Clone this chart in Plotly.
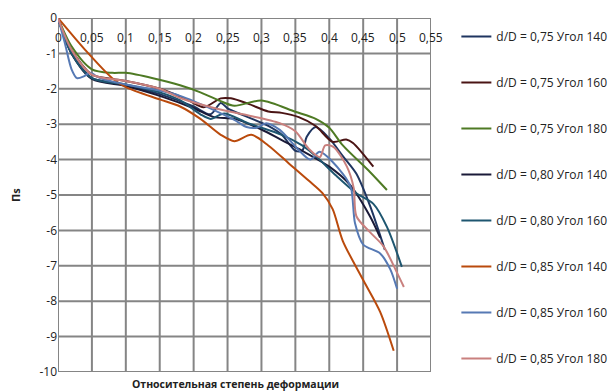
import plotly.graph_objects as go

# Relative deformation (x) and Пs values for each d/D / angle combination
x_075_140 = [0, 0.02, 0.05, 0.08, 0.1, 0.15, 0.2, 0.225, 0.24, 0.25, 0.28, 0.31, 0.33, 0.35, 0.36, 0.367, 0.38, 0.4, 0.42, 0.44, 0.46, 0.482]
y_075_140 = [0, -1.0, -1.7, -1.82, -1.9, -2.15, -2.5, -2.72, -2.4, -2.55, -2.8, -3.05, -3.3, -3.75, -3.75, -3.35, -3.08, -3.4, -3.9, -4.4, -5.3, -6.55]

x_075_160 = [0, 0.02, 0.05, 0.08, 0.1, 0.15, 0.19, 0.215, 0.24, 0.255, 0.28, 0.31, 0.33, 0.355, 0.38, 0.405, 0.425, 0.435, 0.465]
y_075_160 = [0, -0.9, -1.6, -1.72, -1.78, -2.0, -2.3, -2.52, -2.27, -2.27, -2.42, -2.64, -2.68, -2.8, -3.05, -3.5, -3.43, -3.53, -4.2]

x_075_180 = [0, 0.02, 0.05, 0.08, 0.1, 0.14, 0.18, 0.21, 0.24, 0.26, 0.3, 0.35, 0.38, 0.4, 0.42, 0.46, 0.485]
y_075_180 = [0, -0.8, -1.45, -1.55, -1.55, -1.7, -1.9, -2.1, -2.35, -2.48, -2.33, -2.65, -2.85, -3.1, -3.6, -4.35, -4.86]

x_080_140 = [0, 0.02, 0.05, 0.1, 0.15, 0.2, 0.23, 0.26, 0.3, 0.33, 0.36, 0.4, 0.43, 0.46, 0.475]
y_080_140 = [0, -1.0, -1.72, -1.92, -2.2, -2.55, -2.8, -2.85, -3.15, -3.45, -3.75, -4.2, -4.7, -5.6, -6.2]

x_080_160 = [0, 0.02, 0.05, 0.1, 0.15, 0.18, 0.21, 0.225, 0.245, 0.28, 0.33, 0.36, 0.38, 0.41, 0.44, 0.465, 0.485, 0.507]
y_080_160 = [0, -1.0, -1.7, -1.88, -2.1, -2.32, -2.72, -2.85, -2.7, -2.97, -3.3, -3.6, -3.9, -4.45, -4.95, -5.25, -5.9, -7.03]

x_085_140 = [0, 0.04, 0.08, 0.1, 0.15, 0.18, 0.21, 0.24, 0.26, 0.285, 0.31, 0.34, 0.37, 0.39, 0.405, 0.42, 0.45, 0.475, 0.495]
y_085_140 = [0, -0.9, -1.7, -1.95, -2.3, -2.5, -2.85, -3.3, -3.48, -3.3, -3.6, -4.1, -4.6, -4.95, -5.4, -6.3, -7.4, -8.3, -9.4]

x_085_160 = [0, 0.01, 0.02, 0.028, 0.038, 0.047, 0.062, 0.1, 0.15, 0.18, 0.23, 0.26, 0.278, 0.293, 0.307, 0.327, 0.352, 0.372, 0.386, 0.42, 0.432, 0.438, 0.45, 0.475, 0.49, 0.5]
y_085_160 = [0, -0.7, -1.45, -1.7, -1.65, -1.55, -1.7, -1.88, -2.05, -2.2, -2.6, -2.88, -3.08, -3.1, -2.97, -3.16, -3.67, -4.0, -3.78, -4.4, -4.8, -5.8, -6.4, -6.65, -7.1, -7.65]

x_085_180 = [0, 0.02, 0.05, 0.1, 0.15, 0.18, 0.23, 0.278, 0.327, 0.35, 0.37, 0.386, 0.394, 0.406, 0.426, 0.436, 0.44, 0.46, 0.48, 0.5, 0.51]
y_085_180 = [0, -0.9, -1.6, -1.78, -2.0, -2.26, -2.54, -2.74, -2.97, -3.2, -3.7, -3.93, -3.6, -3.64, -4.2, -4.8, -5.6, -6.05, -6.45, -7.2, -7.6]

series_names = [
    "d/D = 0,75 Угол 140", "d/D = 0,75 Угол 160", "d/D = 0,75 Угол 180",
    "d/D = 0,80 Угол 140", "d/D = 0,80 Угол 160", "d/D = 0,85 Угол 140",
    "d/D = 0,85 Угол 160", "d/D = 0,85 Угол 180",
]
series_x = [x_075_140, x_075_160, x_075_180, x_080_140, x_080_160, x_085_140, x_085_160, x_085_180]
series_y = [y_075_140, y_075_160, y_075_180, y_080_140, y_080_160, y_085_140, y_085_160, y_085_180]
colors = ["#1F3560", "#4A1414", "#4E7A24", "#1A1A38", "#1E5670", "#BA4A0C", "#5679B4", "#C9807E"]

x_ticks = [0, 0.05, 0.1, 0.15, 0.2, 0.25, 0.3, 0.35, 0.4, 0.45, 0.5, 0.55]
x_tick_text = ["0", "0,05", "0,1", "0,15", "0,2", "0,25", "0,3", "0,35", "0,4", "0,45", "0,5", "0,55"]
y_ticks = [0, -1, -2, -3, -4, -5, -6, -7, -8, -9, -10]
y_tick_text = ["0", "-1", "-2", "-3", "-4", "-5", "-6", "-7", "-8", "-9", "-10"]

FONT = "Open Sans"
TEXT = "#222222"
GRID = "#858585"

fig = go.Figure()

# horizontal gridlines as one line trace broken by gaps, drawn first so the curves sit on top
grid_x, grid_y = [], []
for v in y_ticks:
    grid_x += [x_ticks[0], x_ticks[-1], None]
    grid_y += [v, v, None]
fig.add_trace(go.Scatter(
    x=grid_x, y=grid_y, mode="lines", showlegend=False, hoverinfo="skip",
    line=dict(color=GRID, width=2), connectgaps=False,
))

for i, (name, xs, ys, c) in enumerate(zip(series_names, series_x, series_y, colors)):
    fig.add_trace(go.Scatter(
        x=xs, y=ys, name=name, mode="lines", legendgroup=f"g{i}",
        line=dict(color=c, width=2, shape="spline", smoothing=0.8),
    ))

# x tick labels sit just under the y = 0 line, inside the plotting area
tick_annotations = [
    dict(text=t, x=v, xref="x", y=1, yref="paper", yshift=-19,
         xanchor="center", yanchor="middle", showarrow=False,
         font=dict(family=FONT, size=12, color=TEXT))
    for v, t in zip(x_ticks, x_tick_text)
]

# vertical gridlines at every x tick, beneath the curves
grid_shapes = [
    dict(type="line", xref="x", yref="y", x0=v, x1=v, y0=y_ticks[-1], y1=y_ticks[0],
         line=dict(color=GRID, width=2), layer="below")
    for v in x_ticks
]

fig.update_layout(
    template="none",
    width=614, height=392,
    margin=dict(l=58, r=183, t=18, b=20, autoexpand=False),
    paper_bgcolor="white", plot_bgcolor="white",
    font=dict(family=FONT, size=12, color=TEXT),
    showlegend=True,
    legend=dict(
        x=1.068, xanchor="left", y=0.989, yanchor="top",
        font=dict(family=FONT, size=12, color=TEXT),
        tracegroupgap=27, itemwidth=30,
        bgcolor="rgba(0,0,0,0)",
    ),
    xaxis=dict(
        range=[0, 0.55], tickmode="array", tickvals=x_ticks, showticklabels=False,
        showgrid=False, showline=False, zeroline=False, ticks="",
    ),
    yaxis=dict(
        range=[-10, 0], tickmode="array", tickvals=y_ticks, ticktext=y_tick_text,
        showgrid=False, showline=False, zeroline=False, ticks="",
        tickfont=dict(size=12),
    ),
    shapes=grid_shapes,
    annotations=tick_annotations + [
        dict(text="<b>Относительная степень деформации</b>", xref="paper", yref="paper",
             x=0.475, y=0, yshift=-12, xanchor="center", yanchor="middle",
             showarrow=False, font=dict(family=FONT, size=10.5, color=TEXT)),
        dict(text="<b>Пs</b>", xref="paper", yref="paper", x=0, xshift=-43,
             y=0.5, xanchor="center", yanchor="middle", textangle=-90,
             showarrow=False, font=dict(family=FONT, size=11, color=TEXT)),
    ],
)

fig.write_html("out.html")
